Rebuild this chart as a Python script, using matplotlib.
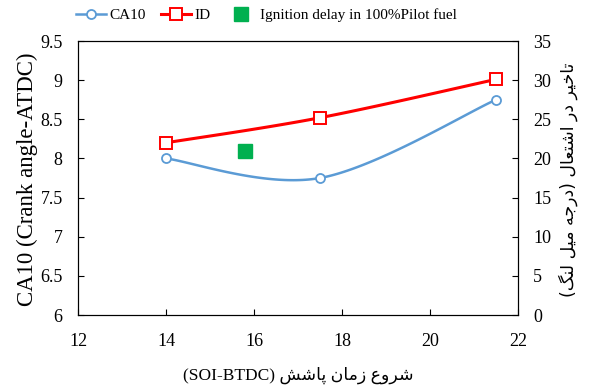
import re
import matplotlib
matplotlib.use('Agg')
import matplotlib.pyplot as plt
import numpy as np

# injection timing (deg BTDC) and measured values
soi = [14, 17.5, 21.5]
ca10 = [8.0, 7.75, 8.75]
ign_delay = [22.0, 25.2, 30.1]
pilot_soi = [15.8]
pilot_delay = [21.0]

x_ticks = [12, 14, 16, 18, 20, 22]
left_ticks = [6, 6.5, 7, 7.5, 8, 8.5, 9, 9.5]
left_labels = ['6', '6.5', '7', '7.5', '8', '8.5', '9', '9.5']
right_ticks = [0, 5, 10, 15, 20, 25, 30, 35]

series_names = ['CA10', 'ID', 'Ignition delay in 100%Pilot fuel']
xlabel_fa = 'شروع زمان پاشش (SOI-BTDC)'
ylabel_left = 'CA10 (Crank angle-ATDC)'
ylabel_right_fa = 'تاخیر در اشتعال (درجه میل لنگ)'

# presentation forms: isolated, final, initial, medial
FORMS = {
    'ا': ('\uFE8D', '\uFE8E', None, None),
    'د': ('\uFEA9', '\uFEAA', None, None),
    'ر': ('\uFEAD', '\uFEAE', None, None),
    'ز': ('\uFEAF', '\uFEB0', None, None),
    'و': ('\uFEED', '\uFEEE', None, None),
    'پ': ('\uFB56', '\uFB57', '\uFB58', '\uFB59'),
    'ت': ('\uFE95', '\uFE96', '\uFE97', '\uFE98'),
    'ج': ('\uFE9D', '\uFE9E', '\uFE9F', '\uFEA0'),
    'خ': ('\uFEA5', '\uFEA6', '\uFEA7', '\uFEA8'),
    'ش': ('\uFEB5', '\uFEB6', '\uFEB7', '\uFEB8'),
    'ع': ('\uFEC9', '\uFECA', '\uFECB', '\uFECC'),
    'گ': ('\uFB92', '\uFB93', '\uFB94', '\uFB95'),
    'ل': ('\uFEDD', '\uFEDE', '\uFEDF', '\uFEE0'),
    'م': ('\uFEE1', '\uFEE2', '\uFEE3', '\uFEE4'),
    'ن': ('\uFEE5', '\uFEE6', '\uFEE7', '\uFEE8'),
    'ه': ('\uFEE9', '\uFEEA', '\uFEEB', '\uFEEC'),
    'ی': ('\uFBFC', '\uFBFD', '\uFBFE', '\uFBFF'),
}


def shape(s):
    out = []
    for i, c in enumerate(s):
        if c not in FORMS:
            out.append(c)
            continue
        prev = s[i - 1] if i > 0 else ''
        nxt = s[i + 1] if i + 1 < len(s) else ''
        join_prev = prev in FORMS and FORMS[prev][2] is not None
        join_next = nxt in FORMS and FORMS[c][2] is not None
        iso, fin, ini, med = FORMS[c]
        if join_prev and join_next:
            out.append(med)
        elif join_prev:
            out.append(fin)
        elif join_next:
            out.append(ini)
        else:
            out.append(iso)
    return ''.join(out)


def rtl(s):
    vis = shape(s)[::-1]
    vis = re.sub(r'[A-Za-z0-9\-]+', lambda m: m.group(0)[::-1], vis)
    return vis.translate(str.maketrans('()', ')('))


def smooth(x, y, n=60):
    # cubic bezier through the points, excel style
    p = np.column_stack([x, y]).astype(float)
    ext = np.vstack([p[0], p, p[-1]])
    t = np.linspace(0, 1, n)[:, None]
    segs = []
    for i in range(len(p) - 1):
        p0, p3 = p[i], p[i + 1]
        c1 = p0 + (ext[i + 2] - ext[i]) / 6
        c2 = p3 - (ext[i + 3] - ext[i + 1]) / 6
        segs.append((1 - t) ** 3 * p0 + 3 * (1 - t) ** 2 * t * c1
                    + 3 * (1 - t) * t ** 2 * c2 + t ** 3 * p3)
    c = np.vstack(segs)
    return c[:, 0], c[:, 1]


plt.rcParams['font.family'] = ['Liberation Serif', 'DejaVu Sans']
blue = '#5B9BD5'
red = '#FF0000'
green = '#00B050'

fig = plt.figure(figsize=(5.91, 3.89), dpi=100)
ax = fig.add_axes([78 / 591, 74 / 389, 440 / 591, 274 / 389])
ax2 = ax.twinx()

sx, sy = smooth(soi, ca10)
ax.plot(sx, sy, color=blue, lw=1.8, zorder=3)
ax.plot(soi, ca10, ls='none', marker='o', ms=6.5, mfc='white', mec=blue, mew=1.3, zorder=4)

ix, iy = smooth(soi, ign_delay)
ax2.plot(ix, iy, color=red, lw=2.2, zorder=3)
ax2.plot(soi, ign_delay, ls='none', marker='s', ms=8, mfc='white', mec=red, mew=1.4, zorder=4)
ax2.plot(pilot_soi, pilot_delay, ls='none', marker='s', ms=9.5, color=green, zorder=4)

ax.set_xlim(12, 22)
ax.set_ylim(6, 9.5)
ax2.set_ylim(0, 35)
ax.set_xticks(x_ticks)
ax.set_yticks(left_ticks)
ax.set_yticklabels(left_labels)
ax2.set_yticks(right_ticks)

for a in (ax, ax2):
    for sp in a.spines.values():
        sp.set_color('black')
        sp.set_linewidth(0.8)
ax.tick_params(axis='both', direction='in', length=4, width=0.8, labelsize=13)
ax.tick_params(axis='y', pad=11)
ax.tick_params(axis='x', pad=13)
ax2.tick_params(axis='y', direction='in', length=4, width=0.8, labelsize=13, pad=11)

fig.text(27 / 591, 1 - 179 / 389, ylabel_left, rotation=90, ha='center', va='center', fontsize=16.5)
fig.text(298 / 591, 1 - 375 / 389, rtl(xlabel_fa), ha='center', va='center', fontsize=12.5)
fig.text(568 / 591, 1 - 180 / 389, rtl(ylabel_right_fa), rotation=90, ha='center', va='center',
         fontsize=12.5, family=['DejaVu Sans'])

h1 = plt.Line2D([], [], color=blue, lw=1.8, marker='o', ms=6.5, mfc='white', mec=blue, mew=1.3)
h2 = plt.Line2D([], [], color=red, lw=2.2, marker='s', ms=8, mfc='white', mec=red, mew=1.4)
h3 = plt.Line2D([], [], ls='none', marker='s', ms=9.5, color=green)
fig.legend([h1, h2, h3], series_names, loc='center', bbox_to_anchor=(266 / 591, 1 - 15 / 389),
           ncol=3, frameon=False, fontsize=11, handlelength=2.0, handletextpad=0.2,
           columnspacing=1.0)

fig.savefig('out.png', dpi=100)
